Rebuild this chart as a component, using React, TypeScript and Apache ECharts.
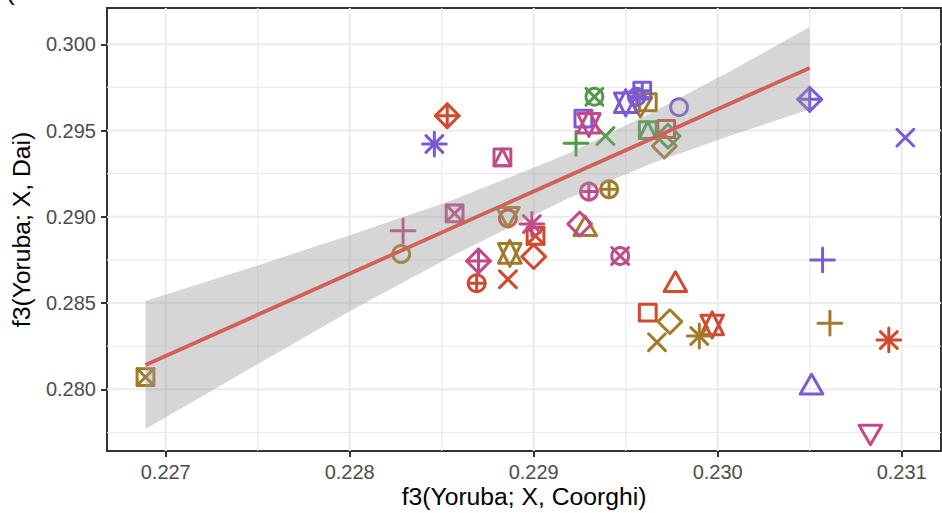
import React, { useEffect, useRef } from "react";
import * as echarts from "echarts";

// axis ticks
const xTicks = [0.227, 0.228, 0.229, 0.23, 0.231];
const yTicks = [0.28, 0.285, 0.29, 0.295, 0.3];
const xMinor = [0.2275, 0.2285, 0.2295, 0.2305];
const yMinor = [0.2775, 0.2825, 0.2875, 0.2925, 0.2975];
const xRange = [0.2266808, 0.2312137];
const yRange = [0.2764232, 0.3021043];

// points: [f3(Yoruba; X, Coorghi), f3(Yoruba; X, Dai), shape (R pch code)]
const redPoints = [
  [0.22853, 0.29586, 9],
  [0.22869, 0.28615, 10],
  [0.22886, 0.28638, 4],
  [0.22901, 0.28889, 7],
  [0.229, 0.28769, 5],
  [0.22886, 0.28991, 1],
  [0.22977, 0.28605, 2],
  [0.22962, 0.28444, 0],
  [0.22997, 0.28373, 11],
  [0.23093, 0.28286, 8],
  [0.22972, 0.29509, 0],
];
const olivePoints = [
  [0.22689, 0.28071, 7],
  [0.22828, 0.28784, 1],
  [0.22886, 0.29016, 6],
  [0.22887, 0.28788, 11],
  [0.22928, 0.28929, 2],
  [0.22941, 0.29159, 10],
  [0.22974, 0.28392, 5],
  [0.22967, 0.28273, 4],
  [0.2299, 0.28309, 8],
  [0.23061, 0.28383, 3],
  [0.22962, 0.29664, 0],
  [0.22958, 0.29654, 6],
  [0.22971, 0.2941, 5],
];
const greenPoints = [
  [0.22933, 0.29696, 13],
  [0.22923, 0.29426, 3],
  [0.22939, 0.29468, 4],
  [0.22962, 0.29503, 14],
  [0.22973, 0.29468, 5],
];
const purplePoints = [
  [0.22846, 0.29422, 8],
  [0.22927, 0.29569, 0],
  [0.2295, 0.29661, 11],
  [0.22959, 0.29731, 12],
  [0.22956, 0.29696, 10],
  [0.22979, 0.29635, 1],
  [0.2305, 0.29681, 9],
  [0.23102, 0.29459, 4],
  [0.23057, 0.2875, 3],
  [0.23051, 0.28011, 2],
];
const pinkPoints = [
  [0.22883, 0.29345, 14],
  [0.22857, 0.2902, 7],
  [0.22829, 0.28919, 3],
  [0.22899, 0.28958, 8],
  [0.2287, 0.28744, 9],
  [0.2293, 0.29146, 10],
  [0.22925, 0.28958, 5],
  [0.22947, 0.28773, 13],
  [0.2293, 0.29542, 11],
  [0.23083, 0.27754, 6],
];

// fitted line and confidence band
const fitX = [0.22689, 0.2305];
const fitY = [0.28141, 0.29863];
const bandX = [0.22689, 0.22746, 0.228, 0.22855, 0.22918, 0.22963, 0.23007, 0.2305];
const bandHigh = [0.28512, 0.28704, 0.28893, 0.29093, 0.29362, 0.29597, 0.29845, 0.30101];
const bandLow = [0.2777, 0.28122, 0.28452, 0.2877, 0.29103, 0.29304, 0.29471, 0.29624];

const COLORS = {
  red: "#D1492F",
  olive: "#A27A2A",
  green: "#519A46",
  purple: "#7B5BD4",
  pink: "#C24A8A",
};
const FONT = "'Liberation Sans', Arial, Helvetica, sans-serif";

const U = 8.4;
const SW = 3;

function shapeChildren(cx: number, cy: number, shape: number, color: string) {
  const style = { fill: "none", stroke: color, lineWidth: SW, lineCap: "round", lineJoin: "round" };
  const ln = (x1: number, y1: number, x2: number, y2: number) => ({ type: "line", shape: { x1, y1, x2, y2 }, style });
  const poly = (points: number[][]) => ({ type: "polygon", shape: { points }, style });
  const circ = (r: number) => ({ type: "circle", shape: { cx, cy, r }, style });
  const sq = () => ({ type: "rect", shape: { x: cx - U, y: cy - U, width: 2 * U, height: 2 * U }, style });
  const plus = (d: number) => [ln(cx - d, cy, cx + d, cy), ln(cx, cy - d, cx, cy + d)];
  const cross = (d: number) => [ln(cx - d, cy - d, cx + d, cy + d), ln(cx - d, cy + d, cx + d, cy - d)];
  const d2 = Math.SQRT2 * U;
  const r = 1.5551 * U;
  const yc = 0.7776 * U;
  const xh = 1.3468 * U;
  const diamond = () => poly([[cx - d2, cy], [cx, cy - d2], [cx + d2, cy], [cx, cy + d2]]);
  switch (shape) {
    case 0: return [sq()];
    case 1: return [circ(U)];
    case 2: return [poly([[cx, cy - r], [cx + xh, cy + yc], [cx - xh, cy + yc]])];
    case 3: return plus(d2);
    case 4: return cross(U);
    case 5: return [diamond()];
    case 6: return [poly([[cx, cy + r], [cx + xh, cy - yc], [cx - xh, cy - yc]])];
    case 7: return [sq(), ...cross(U)];
    case 8: return [...cross(U), ...plus(d2)];
    case 9: return [diamond(), ...plus(d2)];
    case 10: return [circ(U), ...plus(U)];
    case 11: {
      const y2 = 0.5 * (0.7776 + 1.5551) * U;
      return [
        poly([[cx, cy - r], [cx + xh, cy + y2], [cx - xh, cy + y2]]),
        poly([[cx, cy + r], [cx + xh, cy - y2], [cx - xh, cy - y2]]),
      ];
    }
    case 12: return [sq(), ...plus(U)];
    case 13: return [circ(U), ...cross(U)];
    case 14: return [sq(), poly([[cx, cy - U], [cx + U, cy + U], [cx - U, cy + U]])];
    default: return [circ(U)];
  }
}

export default function App() {
  const ref = useRef<HTMLDivElement>(null);
  useEffect(() => {
    if (!ref.current) return;
    const chart = echarts.init(ref.current, undefined, { renderer: "svg" });

    const gridSeries = (vals: number[], vertical: boolean, width: number) => ({
      type: "custom",
      coordinateSystem: "cartesian2d",
      silent: true,
      z: 1,
      data: vals.map((v) => (vertical ? [v, yRange[0]] : [xRange[0], v])),
      renderItem: (params: any, api: any) => {
        const cs = params.coordSys;
        const p = api.coord([api.value(0), api.value(1)]);
        const shape = vertical
          ? { x1: p[0], y1: cs.y, x2: p[0], y2: cs.y + cs.height }
          : { x1: cs.x, y1: p[1], x2: cs.x + cs.width, y2: p[1] };
        return { type: "line", shape, style: { stroke: "#EBEBEB", lineWidth: width } };
      },
    });

    const groups = [
      { name: "red", data: redPoints, color: COLORS.red },
      { name: "olive", data: olivePoints, color: COLORS.olive },
      { name: "green", data: greenPoints, color: COLORS.green },
      { name: "purple", data: purplePoints, color: COLORS.purple },
      { name: "pink", data: pinkPoints, color: COLORS.pink },
    ];

    const pointSeries = groups.map((g) => ({
      type: "custom",
      name: g.name,
      coordinateSystem: "cartesian2d",
      silent: true,
      z: 3,
      data: g.data,
      encode: { x: 0, y: 1 },
      renderItem: (params: any, api: any) => {
        const p = api.coord([api.value(0), api.value(1)]);
        return { type: "group", children: shapeChildren(p[0], p[1], api.value(2), g.color) };
      },
    }));

    const bandSeries = {
      type: "custom",
      coordinateSystem: "cartesian2d",
      silent: true,
      z: 4,
      data: [[bandX[0], bandLow[0]]],
      renderItem: (params: any, api: any) => {
        const pts: number[][] = [];
        for (let i = 0; i < bandX.length; i++) pts.push(api.coord([bandX[i], bandHigh[i]]));
        for (let i = bandX.length - 1; i >= 0; i--) pts.push(api.coord([bandX[i], bandLow[i]]));
        return { type: "polygon", shape: { points: pts }, style: { fill: "rgba(153,153,153,0.4)", stroke: "none" } };
      },
    };

    const fitSeries = {
      type: "line",
      silent: true,
      z: 5,
      showSymbol: false,
      symbol: "none",
      data: fitX.map((x, i) => [x, fitY[i]]),
      lineStyle: { color: "#D35F5B", width: 3.8 },
    };

    const axisCommon = {
      type: "value",
      axisLine: { show: true, lineStyle: { color: "#333333", width: 2 } },
      splitLine: { show: false },
      axisLabel: {
        color: "#4D4D4D",
        fontSize: 20,
        fontFamily: FONT,
        margin: 11,
        formatter: (v: number) => v.toFixed(3),
      },
      axisTick: { show: true, length: 6, lineStyle: { color: "#333333", width: 2 } },
    };

    chart.setOption({
      animation: false,
      backgroundColor: "#ffffff",
      grid: { left: 107, top: 8, right: 1, bottom: 62, show: true, borderColor: "#333333", borderWidth: 2, backgroundColor: "transparent" },
      xAxis: {
        ...axisCommon,
        min: xRange[0],
        max: xRange[1],
        axisTick: { ...axisCommon.axisTick, customValues: xTicks },
        axisLabel: { ...axisCommon.axisLabel, customValues: xTicks },
      },
      yAxis: {
        ...axisCommon,
        min: yRange[0],
        max: yRange[1],
        axisTick: { ...axisCommon.axisTick, customValues: yTicks },
        axisLabel: { ...axisCommon.axisLabel, customValues: yTicks },
      },
      graphic: [
        {
          type: "text",
          x: 524,
          y: 496,
          silent: true,
          style: { text: "f3(Yoruba; X, Coorghi)", fill: "#000000", fontSize: 24.7, fontFamily: FONT, align: "center", verticalAlign: "middle" },
        },
        {
          type: "text",
          x: 21,
          y: 229.5,
          rotation: Math.PI / 2,
          silent: true,
          style: { text: "f3(Yoruba; X, Dai)", fill: "#000000", fontSize: 24.7, fontFamily: FONT, align: "center", verticalAlign: "middle" },
        },
        {
          type: "text",
          x: 6,
          y: -9,
          silent: true,
          style: { text: "(", fill: "#000000", fontSize: 26, fontFamily: FONT, align: "left", verticalAlign: "middle" },
        },
      ],
      series: [
        gridSeries(xMinor, true, 1.1),
        gridSeries(yMinor, false, 1.1),
        gridSeries(xTicks, true, 2),
        gridSeries(yTicks, false, 2),
        ...pointSeries,
        bandSeries,
        fitSeries,
      ],
    } as any);

    return () => chart.dispose();
  }, []);

  return (
    <div
      ref={ref}
      style={{ position: "absolute", left: 0, top: 0, width: 942, height: 513, background: "#ffffff" }}
    />
  );
}
